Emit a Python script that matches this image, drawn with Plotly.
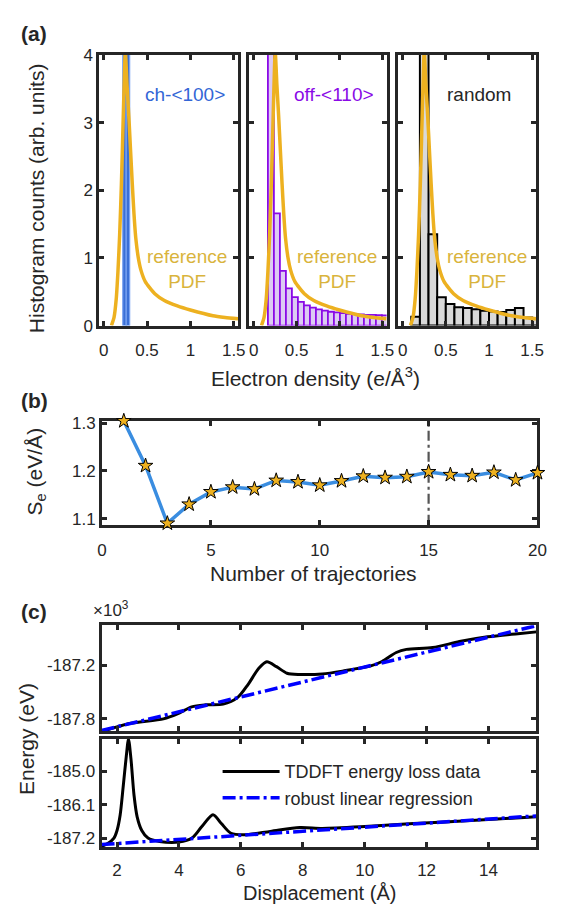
import plotly.graph_objects as go

FONT = "Liberation Sans, Arial, Helvetica, sans-serif"
W, H = 565, 916
INK = "#262626"
GOLD = "#EDB120"

# ---------------- Panel (a) data ----------------
pdf_x = [0.09, 0.12, 0.145, 0.165, 0.185, 0.205, 0.22, 0.235, 0.25, 0.27, 0.29, 0.31,
         0.33, 0.35, 0.37, 0.40, 0.43, 0.48, 0.59, 0.70, 0.85, 1.00, 1.26, 1.40, 1.55]
pdf_y = [0.0, 0.12, 0.39, 0.8, 1.35, 2.1, 2.8, 3.5, 4.05, 3.55, 3.1, 2.6,
         2.1, 1.65, 1.3, 1.0, 0.82, 0.65, 0.47, 0.37, 0.29, 0.23, 0.145, 0.12, 0.10]

ch_edges = [0.22, 0.26, 0.30]
ch_counts = [11.0, 9.5]

off_edges = [0.165, 0.235, 0.305, 0.375, 0.445, 0.515, 0.585, 0.655, 0.725, 0.795, 0.865,
             0.935, 1.005, 1.075, 1.145, 1.215, 1.285, 1.355, 1.425, 1.495, 1.565]
off_counts = [6.5, 1.66, 0.81, 0.55, 0.42, 0.35, 0.30, 0.265, 0.24, 0.22,
              0.205, 0.195, 0.185, 0.175, 0.17, 0.165, 0.16, 0.16, 0.155, 0.15]

rand_edges = [0.1, 0.2, 0.3, 0.4, 0.5, 0.6, 0.7, 0.8, 0.9, 1.0, 1.1, 1.2, 1.3, 1.4, 1.5, 1.6]
rand_counts = [0.13, 5.5, 1.35, 0.42, 0.32, 0.27, 0.26, 0.24, 0.22, 0.21, 0.20, 0.23, 0.26, 0.12, 0.10]

dens_ticks = [0, 0.5, 1, 1.5]
dens_ticktext = ["0", "0.5", "1", "1.5"]
count_ticks = [0, 1, 2, 3, 4]

# ---------------- Panel (b) data ----------------
n_traj = [1, 2, 3, 4, 5, 6, 7, 8, 9, 10, 11, 12, 13, 14, 15, 16, 17, 18, 19, 20]
se_vals = [1.305, 1.211, 1.090, 1.130, 1.156, 1.166, 1.162, 1.180, 1.177, 1.170,
           1.179, 1.189, 1.186, 1.188, 1.198, 1.192, 1.190, 1.197, 1.181, 1.196]
selected_traj = 15
traj_ticks = [0, 5, 10, 15, 20]
se_ticks = [1.1, 1.2, 1.3]

# ---------------- Panel (c) data (x10^3 eV) ----------------
top_x = [1.5, 2.36, 3.5, 3.95, 4.41, 4.86, 5.43, 5.89, 6.23, 6.58, 6.84, 7.15, 7.49, 7.9,
         8.63, 9.31, 10.22, 10.56, 11.02, 11.35, 12.2, 13.06, 13.97, 14.95, 15.55]
top_e = [-187.945, -187.855, -187.80, -187.745, -187.666, -187.644, -187.636, -187.564,
         -187.418, -187.236, -187.164, -187.218, -187.291, -187.305, -187.30, -187.266,
         -187.207, -187.16, -187.06, -187.025, -187.005, -186.938, -186.885, -186.85, -186.83]
top_fit_x = [1.5, 15.55]
top_fit_e = [-187.93, -186.76]

bot_x = [1.5, 1.7, 1.9, 2.0, 2.1, 2.2, 2.3, 2.37, 2.45, 2.55, 2.65, 2.8, 3.0, 3.37, 4.0,
         4.42, 4.74, 5.1, 5.37, 5.68, 6.1, 6.95, 7.9, 8.63, 10.0, 11.58, 13.16, 15.55]
bot_e = [-187.47, -187.38, -187.2, -186.95, -186.45, -185.5, -184.5, -183.95, -184.6,
         -185.8, -186.5, -186.95, -187.2, -187.31, -187.33, -187.2, -186.82, -186.43,
         -186.72, -187.04, -187.09, -186.98, -186.85, -186.88, -186.82, -186.72, -186.64, -186.50]
bot_fit_x = [1.5, 15.55]
bot_fit_e = [-187.41, -186.47]

disp_ticks = [2, 4, 6, 8, 10, 12, 14]
top_eticks = [-187.8, -187.2]
bot_eticks = [-187.2, -186.1, -185.0]


def centers(edges):
    return [(a + b) / 2 for a, b in zip(edges[:-1], edges[1:])]


def widths(edges):
    return [b - a for a, b in zip(edges[:-1], edges[1:])]


def px_x(p):
    return p / W


def px_y(p):
    return 1 - p / H


fig = go.Figure()

# Panel (a)
fig.add_trace(go.Bar(x=centers(ch_edges), y=ch_counts, width=widths(ch_edges),
                     marker=dict(color="#3a6fd6", line=dict(color="#7aa4f2", width=1.2)),
                     xaxis="x", yaxis="y", showlegend=False))
fig.add_trace(go.Scatter(x=pdf_x, y=pdf_y, mode="lines",
                         line=dict(color=GOLD, width=3.5, shape="spline", smoothing=0.6),
                         xaxis="x", yaxis="y", showlegend=False))
fig.add_trace(go.Bar(x=centers(off_edges), y=off_counts, width=widths(off_edges),
                     marker=dict(color="#dccbf3", line=dict(color="#8a0ae6", width=1.8)),
                     xaxis="x2", yaxis="y2", showlegend=False))
fig.add_trace(go.Scatter(x=pdf_x, y=pdf_y, mode="lines",
                         line=dict(color=GOLD, width=3.5, shape="spline", smoothing=0.6),
                         xaxis="x2", yaxis="y2", showlegend=False))
fig.add_trace(go.Bar(x=centers(rand_edges), y=rand_counts, width=widths(rand_edges),
                     marker=dict(color="#d9d9d9", line=dict(color="#000000", width=2)),
                     xaxis="x3", yaxis="y3", showlegend=False))
fig.add_trace(go.Scatter(x=pdf_x, y=pdf_y, mode="lines",
                         line=dict(color=GOLD, width=3.5, shape="spline", smoothing=0.6),
                         xaxis="x3", yaxis="y3", showlegend=False))

# Panel (b)
fig.add_trace(go.Scatter(x=n_traj, y=se_vals, mode="lines+markers",
                         line=dict(color="#3a8de0", width=3.5),
                         marker=dict(symbol="star", size=11, color=GOLD,
                                     line=dict(color="#000000", width=1)),
                         cliponaxis=False,
                         xaxis="x4", yaxis="y4", showlegend=False))

# Panel (c)
fig.add_trace(go.Scatter(x=top_x, y=top_e, mode="lines",
                         line=dict(color="#000000", width=3, shape="spline", smoothing=0.8),
                         xaxis="x5", yaxis="y5", showlegend=False))
fig.add_trace(go.Scatter(x=top_fit_x, y=top_fit_e, mode="lines",
                         line=dict(color="#0000ff", width=3.5, dash="13px,4px,3px,4px"),
                         xaxis="x5", yaxis="y5", showlegend=False))
fig.add_trace(go.Scatter(x=bot_x, y=bot_e, mode="lines", name="TDDFT energy loss data",
                         line=dict(color="#000000", width=3, shape="spline", smoothing=0.8),
                         xaxis="x6", yaxis="y6", showlegend=True))
fig.add_trace(go.Scatter(x=bot_fit_x, y=bot_fit_e, mode="lines", name="robust linear regression",
                         line=dict(color="#0000ff", width=3.5, dash="13px,4px,3px,4px"),
                         xaxis="x6", yaxis="y6", showlegend=True))

axis_common = dict(showline=True, linewidth=3, linecolor=INK, mirror="ticks",
                   ticks="inside", ticklen=5, tickwidth=2.5, tickcolor=INK,
                   showgrid=False, zeroline=False,
                   tickfont=dict(size=17, color=INK, family=FONT))

# domains in pixels
pa_y = [px_y(323.3), px_y(47)]
pa_x = [[px_x(96.7), px_x(239)], [px_x(250.7), px_x(391.3)], [px_x(403.3), px_x(545)]]
pb_x = [px_x(99.5), px_x(546)]
pb_y = [px_y(526.7), px_y(420.7)]
pc_x = [px_x(99), px_x(545)]
pc_top_y = [px_y(737.7), px_y(629.3)]
pc_bot_y = [px_y(855.7), px_y(745)]

layout = dict(width=W, height=H, margin=dict(l=0, r=0, t=0, b=0),
              paper_bgcolor="white", plot_bgcolor="white", barmode="overlay",
              font=dict(family=FONT, color=INK),
              legend=dict(x=px_x(218), y=px_y(760), xanchor="left", yanchor="top",
                          bgcolor="rgba(0,0,0,0)", itemwidth=57,
                          font=dict(size=18, family=FONT, color=INK), tracegroupgap=0))

for i, dom in enumerate(pa_x):
    k = "" if i == 0 else str(i + 1)
    layout["xaxis" + k] = dict(axis_common, domain=dom, range=[-0.05, 1.55], anchor="y" + k,
                               tickvals=dens_ticks, ticktext=dens_ticktext, ticklabelstandoff=7)
    layout["yaxis" + k] = dict(axis_common, domain=pa_y, range=[0, 4], anchor="x" + k,
                               tickvals=count_ticks, showticklabels=(i == 0))

layout["xaxis4"] = dict(axis_common, domain=pb_x, range=[0, 20], anchor="y4", tickvals=traj_ticks,
                        ticklabelstandoff=8, layer="below traces")
layout["yaxis4"] = dict(axis_common, domain=pb_y, range=[1.087, 1.305], anchor="x4", tickvals=se_ticks,
                        ticktext=["1.1", "1.2", "1.3"], layer="below traces")
layout["xaxis5"] = dict(axis_common, domain=pc_x, range=[1.5, 15.55], anchor="y5", tickvals=disp_ticks,
                        showticklabels=False)
layout["yaxis5"] = dict(axis_common, domain=pc_top_y, range=[-187.94, -186.756], anchor="x5",
                        tickvals=top_eticks, ticktext=["-187.8", "-187.2"])
layout["xaxis6"] = dict(axis_common, domain=pc_x, range=[1.5, 15.55], anchor="y6", tickvals=disp_ticks,
                        ticklabelstandoff=6)
layout["yaxis6"] = dict(axis_common, domain=pc_bot_y, range=[-187.49, -183.93], anchor="x6",
                        tickvals=bot_eticks, ticktext=["-187.2", "-186.1", "-185.0"])

fig.update_layout(**layout)

fig.add_shape(type="line", xref="x4", yref="y4 domain", x0=selected_traj, x1=selected_traj,
              y0=0, y1=1, line=dict(color="#555555", width=2.2, dash="10px,4px,3px,4px"), layer="below")


def ann(text, x, y, size, color=INK, xref="paper", yref="paper", angle=0, bold=False):
    if bold:
        text = "<b>" + text + "</b>"
    fig.add_annotation(text=text, x=x, y=y, xref=xref, yref=yref, showarrow=False,
                       xanchor="center", yanchor="middle",
                       textangle=angle, font=dict(size=size, color=color, family=FONT))


# panel labels
ann("(a)", px_x(30), px_y(25), 21, bold=True)
ann("(b)", px_x(30), px_y(400), 21, bold=True)
ann("(c)", px_x(30), px_y(615), 21, bold=True)
ann("×10<sup>3</sup>", px_x(109), px_y(613), 17)

# axis titles
ann("Histogram counts (arb. units)", px_x(33), px_y(193), 21, angle=-90)
ann("Electron density (e/Å<sup>3</sup>)", px_x(318), px_y(376), 21)
ann("S<sub>e</sub> (eV/Å)", px_x(32), px_y(472), 21, angle=-90)
ann("Number of trajectories", px_x(316), px_y(576), 21)
ann("Energy (eV)", px_x(22), px_y(745), 21, angle=-90)
ann("Displacement (Å)", px_x(322), px_y(903), 20)

# in-panel texts for (a)
ann("ch-&lt;100&gt;", 0.94, 3.42, 19, color="#3366d6", xref="x", yref="y")
ann("reference<br>PDF", 0.96, 0.84, 19, color="#d9b43c", xref="x", yref="y")
ann("off-&lt;110&gt;", 0.94, 3.42, 19, color="#8a0ae6", xref="x2", yref="y2")
ann("reference<br>PDF", 0.97, 0.84, 19, color="#d9b43c", xref="x2", yref="y2")
ann("random", 0.88, 3.42, 19, color=INK, xref="x3", yref="y3")
ann("reference<br>PDF", 0.98, 0.84, 19, color="#d9b43c", xref="x3", yref="y3")

fig.write_html("out.html")
